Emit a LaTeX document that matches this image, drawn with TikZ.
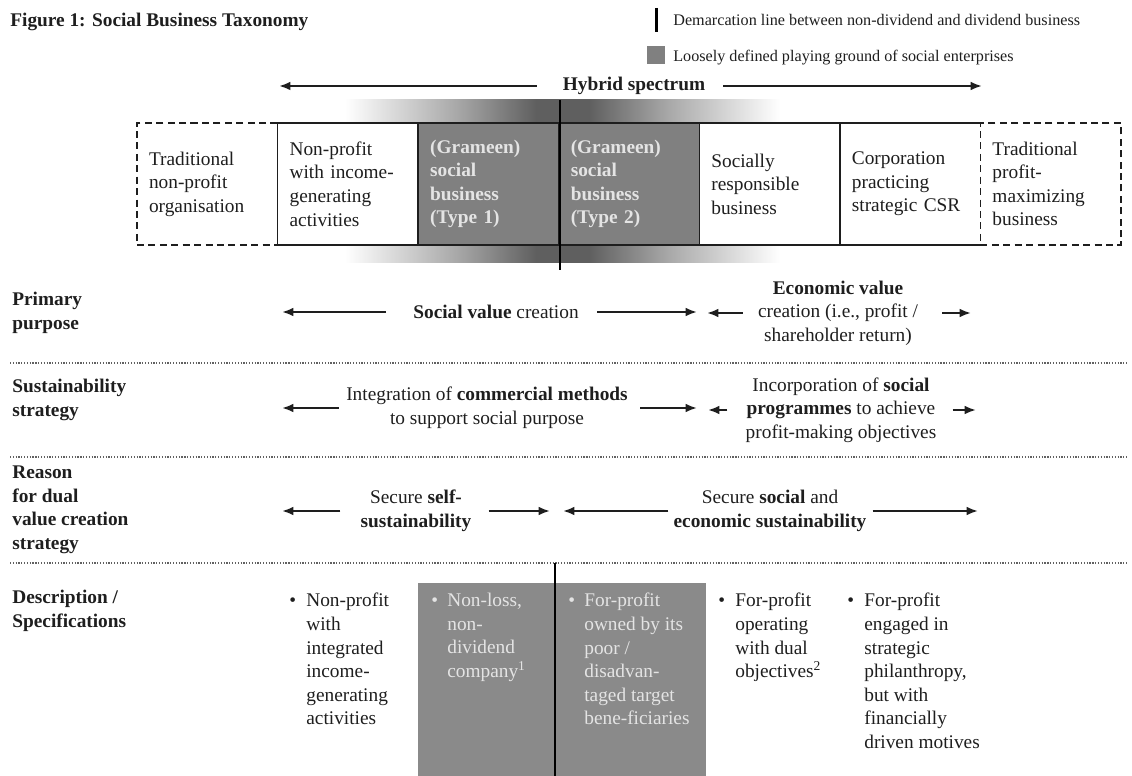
\documentclass[tikz,border=0pt]{standalone}
\usepackage{fontspec}
\setmainfont{Liberation Serif}
\usetikzlibrary{arrows.meta, positioning}
\definecolor{sbgray}{RGB}{128,128,128}
\definecolor{sblight}{RGB}{228,228,228}
\definecolor{bandgray}{RGB}{95,95,95}
\definecolor{ink}{RGB}{30,30,30}
\colorlet{bandmid}{bandgray!55}
\pgfdeclarehorizontalshading{sbband}{100bp}{color(0bp)=(white); color(25bp)=(white); color(38bp)=(bandmid); color(47bp)=(bandgray); color(53bp)=(bandgray); color(62bp)=(bandmid); color(75bp)=(white); color(100bp)=(white)}
\newcommand\boxfont{\fontsize{11}{13.4}\selectfont}
\newcommand\legfont{\fontsize{9.2}{11}\selectfont}

\begin{document}
\begin{tikzpicture}[x=0.02cm, y=-0.02cm,
  sbbox/.style={draw=ink, line width=0.9pt, fill=white, outer sep=0pt, minimum width=2.812cm, minimum height=2.44cm, text width=2.33cm, inner xsep=0.24cm, align=left, font=\boxfont, text=ink},
  sbdash/.style={sbbox, dash pattern=on 4pt off 2.5pt},
  sbdark/.style={sbbox, fill=sbgray, text=sblight, font=\boxfont\bfseries},
  rowlabel/.style={anchor=west, align=left, inner sep=0pt, font=\boxfont\bfseries, text=ink},
  rowtext/.style={align=center, inner sep=0pt, font=\boxfont, text=ink},
  dsbullet/.style={anchor=base west, inner sep=0pt, font=\boxfont, text=ink},
  dstext/.style={anchor=north west, align=left, inner sep=0pt, font=\boxfont, text=ink},
  sbarrow/.style={-{Latex[length=6.5pt, width=5pt]}, line width=1.2pt, draw=ink},
  divider/.style={draw=ink!70, line width=0.7pt, dash pattern=on 0.7pt off 0.9pt},
  demarc/.style={line width=1.6pt, draw=black}
]
  \useasboundingbox (0,0) rectangle (1132,776);

  % Title and legend
  \node[anchor=base west, inner sep=0pt, text=ink, font=\fontsize{11}{13}\selectfont\bfseries] (title) at (10,27) {Figure 1: Social Business Taxonomy};
  \draw[demarc] (656.5,8) -- (656.5,32);
  \node[anchor=base west, inner sep=0pt, text=ink, font=\legfont] (legdem) at (673,26) {Demarcation line between non-dividend and dividend business};
  \fill[sbgray] (647,46) rectangle (665,64);
  \node[anchor=base west, inner sep=0pt, text=ink, font=\legfont] (legsq) at (673,62) {Loosely defined playing ground of social enterprises};

  % Hybrid spectrum
  \node[rowtext, font=\boxfont\bfseries] (hyb) at (634,86) {Hybrid spectrum};
  \coordinate (hybL) at (279,86);
  \coordinate (hybR) at (982,86);
  \draw[sbarrow, shorten <=0.52cm] (hyb.west) -- (hybL);
  \draw[sbarrow, shorten <=0.36cm] (hyb.east) -- (hybR);

  % Spectrum of organisation types
  \shade[shading=sbband] (345,100) rectangle (780,263);
  \node[sbdash, anchor=north west] (tnp) at (137,123) {Traditional\\non-profit\\organisation};
  \node[sbbox, right=0pt of tnp] (npi) {Non-profit\\with income-\\generating\\activities};
  \node[sbdark, right=0pt of npi] (sb1) {(Grameen)\\social\\business\\(Type 1)};
  \node[sbdark, right=0pt of sb1] (sb2) {(Grameen)\\social\\business\\(Type 2)};
  \node[sbbox, right=0pt of sb2] (srb) {Socially\\responsible\\business};
  \node[sbbox, right=0pt of srb] (csr) {Corporation\\practicing\\strategic CSR};
  \node[sbdash, right=0pt of csr] (tpm) {Traditional\\profit-\\maximizing\\business};
  \draw[demarc] (560,100) -- (560,270);

  % Primary purpose
  \node[rowlabel] (lpp) at (12,313) {Primary\\purpose};
  \node[rowtext] (pvs) at (496,312) {\textbf{Social value} creation};
  \node[rowtext] (pve) at (838,313) {\textbf{Economic value}\\creation (i.e., profit /\\shareholder return)};
  \coordinate (ppL) at (282,312);
  \coordinate (ppR) at (697,312);
  \coordinate (peL) at (707,313);
  \coordinate (peR) at (971,313);
  \draw[sbarrow, shorten <=0.54cm] (pvs.west) -- (ppL);
  \draw[sbarrow, shorten <=0.36cm] (pvs.east) -- (ppR);
  \draw[sbarrow, shorten <=0.3cm] (pve.west) -- (peL);
  \draw[sbarrow, shorten <=0.48cm] (pve.east) -- (peR);
  \draw[divider] (10,363) -- (1128,363);

  % Sustainability strategy
  \node[rowlabel] (lss) at (12,400) {Sustainability\\strategy};
  \node[rowtext] (sl) at (487,408) {Integration of \textbf{commercial methods}\\to support social purpose};
  \node[rowtext] (sr) at (841,410) {Incorporation of \textbf{social}\\\textbf{programmes} to achieve\\profit-making objectives};
  \coordinate (slL) at (282,408);
  \coordinate (slR) at (697,408);
  \coordinate (srL) at (708,410);
  \coordinate (srR) at (976,410);
  \draw[sbarrow, shorten <=0.14cm] (sl.west) -- (slL);
  \draw[sbarrow, shorten <=0.24cm] (sl.east) -- (slR);
  \draw[sbarrow, shorten <=0.36cm] (sr.west) -- (srL);
  \draw[sbarrow, shorten <=0.32cm] (sr.east) -- (srR);
  \draw[divider] (10,457) -- (1128,457);

  % Reason for dual value creation strategy
  \node[rowlabel] (lrs) at (12,510) {Reason\\for dual\\value creation\\strategy};
  \node[rowtext] (rl) at (416,511) {Secure \textbf{self-}\\\textbf{sustainability}};
  \node[rowtext] (rr) at (770,511) {Secure \textbf{social} and\\\textbf{economic sustainability}};
  \coordinate (rlL) at (282,511);
  \coordinate (rlR) at (550,511);
  \coordinate (rrL) at (563,511);
  \coordinate (rrR) at (978,511);
  \draw[sbarrow, shorten <=0.4cm] (rl.west) -- (rlL);
  \draw[sbarrow, shorten <=0.34cm] (rl.east) -- (rlR);
  \draw[sbarrow, shorten <=0.1cm] (rr.west) -- (rrL);
  \draw[sbarrow, shorten <=0.12cm] (rr.east) -- (rrR);
  \draw[divider] (10,563) -- (1128,563);

  % Description / specifications
  \fill[sbgray!92] (418,583) rectangle (706,776);
  \draw[demarc] (555,563) -- (555,776);
  \node[rowlabel, anchor=north west] (lds) at (12,590) {Description /\\Specifications};
  \node[dsbullet] (d1b) at (289,606) {\textbullet};
  \node[dstext] (d1) at (306,593) {Non-profit\\with\\integrated\\income-\\generating\\activities};
  \node[dsbullet, text=sblight] (d2b) at (431,606) {\textbullet};
  \node[dstext, text=sblight] (d2) at (447,593) {Non-loss,\\non-\\dividend\\company\textsuperscript{1}};
  \node[dsbullet, text=sblight] (d3b) at (568,606) {\textbullet};
  \node[dstext, text=sblight] (d3) at (584,593) {For-profit\\owned by its\\poor /\\disadvan-\\taged target\\bene-ficiaries};
  \node[dsbullet] (d4b) at (718,606) {\textbullet};
  \node[dstext] (d4) at (735,593) {For-profit\\operating\\with dual\\objectives\textsuperscript{2}};
  \node[dsbullet] (d5b) at (847,606) {\textbullet};
  \node[dstext] (d5) at (864,593) {For-profit\\engaged in\\strategic\\philanthropy,\\but with\\financially\\driven motives};
\end{tikzpicture}
\end{document}
